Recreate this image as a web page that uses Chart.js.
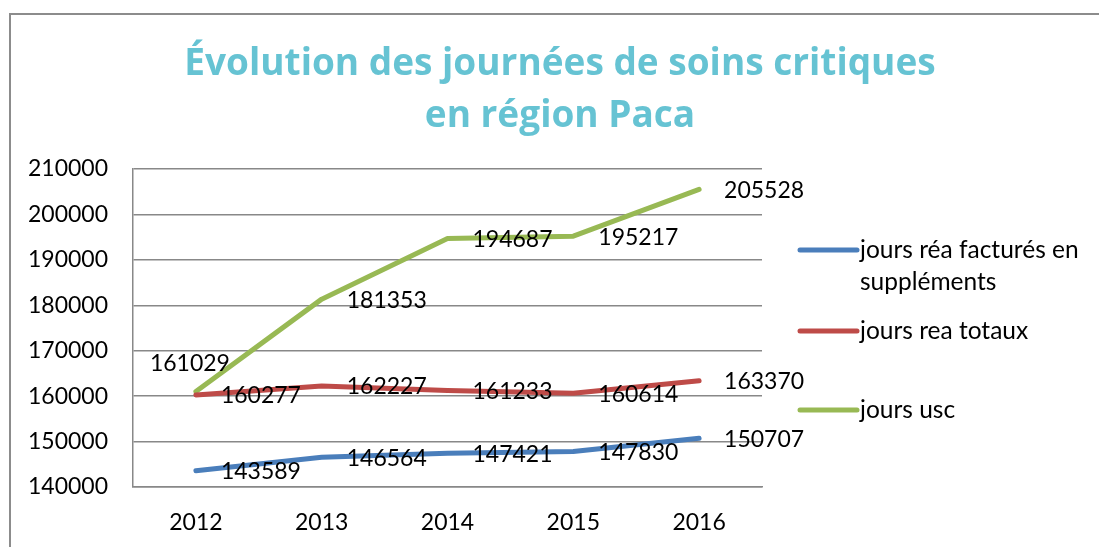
<!DOCTYPE html>
<html>
<head>
<meta charset="utf-8">
<script src="https://cdn.jsdelivr.net/npm/chart.js@4.4.1/dist/chart.umd.min.js"></script>
<style>
  html, body { margin: 0; padding: 0; background: #fff; overflow: hidden; }
  #frame { position: absolute; left: 9px; top: 13px; width: 1200px; height: 700px; border: 2px solid #8c8c8c; box-sizing: border-box; }
  #wrap { position: absolute; left: 0; top: 0; width: 1099px; height: 547px; }
</style>
</head>
<body>
<div id="frame"></div>
<div id="wrap"><canvas id="chart" width="1099" height="547"></canvas></div>
<script>
const years = ['2012', '2013', '2014', '2015', '2016'];
const reaFactures = [143589, 146564, 147421, 147830, 150707];
const reaTotaux = [160277, 162227, 161233, 160614, 163370];
const joursUsc = [161029, 181353, 194687, 195217, 205528];
const seriesNames = ['jours réa facturés en suppléments', 'jours rea totaux', 'jours usc'];
const legendLines = [['jours réa facturés en', 'suppléments'], ['jours rea totaux'], ['jours usc']];
const yMin = 140000;
const yMax = 210000;
const yStep = 10000;
const titleLines = ['Évolution des journées de soins critiques', 'en région Paca'];

// where each value label goes, relative to its point
const labelPlaces = [
  ['right', 'right', 'right', 'right', 'right'],
  ['right', 'right', 'right', 'right', 'right'],
  ['above', 'right', 'right', 'right', 'right']
];

const labelFont = '23px Lato';
const legendFont = '24.5px Lato';

const valueLabels = {
  id: 'valueLabels',
  afterDatasetsDraw(chart) {
    const ctx = chart.ctx;
    ctx.save();
    ctx.font = labelFont;
    ctx.fillStyle = '#000';
    ctx.textBaseline = 'middle';
    chart.data.datasets.forEach((ds, i) => {
      const meta = chart.getDatasetMeta(i);
      meta.data.forEach((pt, j) => {
        if (labelPlaces[i][j] === 'above') {
          ctx.textAlign = 'center';
          ctx.fillText(String(ds.data[j]), pt.x - 6, pt.y - 28);
        } else {
          ctx.textAlign = 'left';
          ctx.fillText(String(ds.data[j]), pt.x + 25, pt.y + 1);
        }
      });
    });
    ctx.restore();
  }
};

// legend drawn by hand so the first entry can wrap on two lines
const sideLegend = {
  id: 'sideLegend',
  afterDraw(chart) {
    const ctx = chart.ctx;
    const area = chart.chartArea;
    const rows = [81, 162, 241];
    const x0 = area.right + 38;
    ctx.save();
    ctx.font = legendFont;
    ctx.textBaseline = 'middle';
    ctx.textAlign = 'left';
    chart.data.datasets.forEach((ds, i) => {
      const y = area.top + rows[i];
      ctx.strokeStyle = ds.borderColor;
      ctx.lineWidth = 5;
      ctx.lineCap = 'round';
      ctx.beginPath();
      ctx.moveTo(x0, y);
      ctx.lineTo(x0 + 57, y);
      ctx.stroke();
      ctx.fillStyle = '#000';
      legendLines[i].forEach((t, k) => {
        ctx.fillText(t, x0 + 60, y + k * 32);
      });
    });
    ctx.restore();
  }
};

const ctx = document.getElementById('chart').getContext('2d');
new Chart(ctx, {
  type: 'line',
  data: {
    labels: years,
    datasets: [
      { label: seriesNames[0], data: reaFactures, borderColor: '#4A7EBB', backgroundColor: '#4A7EBB' },
      { label: seriesNames[1], data: reaTotaux, borderColor: '#BE4B48', backgroundColor: '#BE4B48' },
      { label: seriesNames[2], data: joursUsc, borderColor: '#98B954', backgroundColor: '#98B954' }
    ]
  },
  options: {
    responsive: false,
    animation: false,
    elements: {
      line: { borderWidth: 5, tension: 0, borderCapStyle: 'round', borderJoinStyle: 'round' },
      point: { radius: 0, hoverRadius: 0 }
    },
    layout: { padding: { left: 21, right: 0, top: 38, bottom: 0 } },
    plugins: {
      legend: { display: false },
      tooltip: { enabled: false },
      title: {
        display: true,
        text: titleLines,
        color: '#66C3D3',
        font: { family: 'Open Sans', size: 37, weight: 'bold', lineHeight: 52 / 37 },
        padding: { top: 0, bottom: 27 }
      }
    },
    scales: {
      x: {
        offset: true,
        grid: { display: false },
        border: { display: true, color: '#888', width: 1.5 },
        ticks: { color: '#000', font: { family: 'Lato', size: 23 }, padding: 14 },
        afterFit: (scale) => { scale.height = 60; }
      },
      y: {
        min: yMin,
        max: yMax,
        ticks: {
          stepSize: yStep,
          color: '#000',
          font: { family: 'Lato', size: 23 },
          padding: 25,
          callback: (v) => String(v)
        },
        grid: { color: '#888', lineWidth: 1.5, drawTicks: false },
        border: { display: true, color: '#888', width: 1.5 },
        afterFit: (scale) => { scale.width = 112; }
      },
      // empty axis only to keep room for the legend on the right
      side: {
        type: 'linear',
        position: 'right',
        grid: { display: false },
        ticks: { display: false },
        border: { display: false },
        afterFit: (scale) => { scale.width = 337; }
      }
    }
  },
  plugins: [valueLabels, sideLegend]
});
</script>
</body>
</html>
